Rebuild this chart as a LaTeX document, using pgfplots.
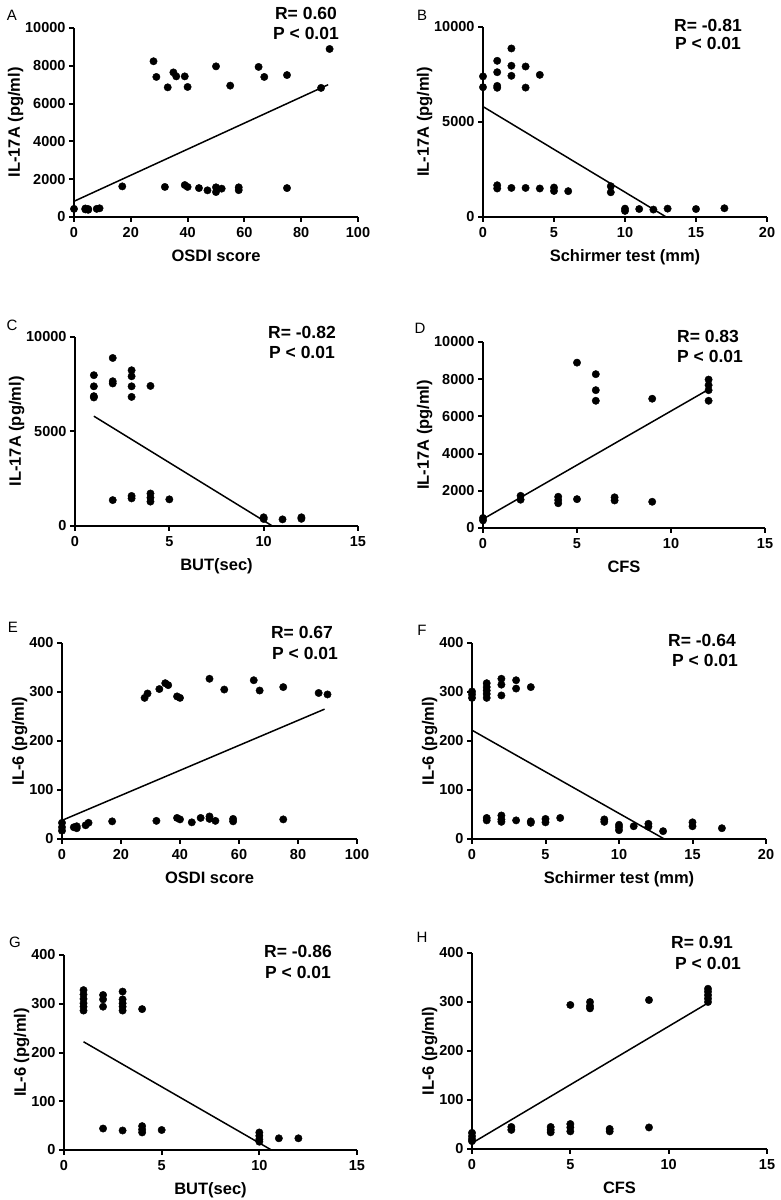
\documentclass[border=0pt]{standalone}
\usepackage{pgfplots}
\pgfplotsset{compat=1.18}
\usepackage{fontspec}
\setmainfont{Liberation Sans}
\pgfplotsset{
  prism/.style={
    scale only axis,
    axis x line=bottom, axis y line=left,
    axis line style={-, line width=2pt, black},
    enlargelimits=false, clip=false, xmin=0, ymin=0,
    tick align=outside, major tick length=5pt,
    every tick/.style={black, line width=2pt},
    scaled ticks=false,
    /pgf/number format/set thousands separator={},
    /pgf/number format/assume math mode=true,
    ticklabel style={font=\bfseries\fontsize{14.5}{14.5}\selectfont},
    xticklabel style={yshift=-2pt},
    label style={font=\bfseries\fontsize{16.5}{16.5}\selectfont},
    xlabel style={yshift=-5pt},
    ylabel style={yshift=-5pt},
  },
  dot/.style={only marks, mark=*, mark size=3.7pt, black, mark options={fill=black}},
  fit/.style={no marks, black, line width=1.5pt},
}
\newcommand{\stat}{\bfseries\fontsize{17.5}{17.5}\selectfont}
\newcommand{\plab}{\fontsize{15}{15}\selectfont}
\begin{document}
\begin{tikzpicture}[x=1pt,y=1pt]
\useasboundingbox (0,0) rectangle (780,1200);
% ---------- A
\begin{axis}[prism, at={(74pt,983pt)}, anchor=south west, width=284pt, height=189pt,
  xmax=100, ymax=10000, xtick={0,20,...,100}, ytick={0,2000,...,10000},
  xlabel={OSDI score}, ylabel={IL-17A (pg/ml)}]
\addplot[dot] coordinates {(0,430)(4,450)(4,400)(5,420)(5,380)(8,430)(9,460)(17,1620)(28,8240)(29,7410)(33,6860)(35,7650)(36,7440)(39,7440)(40,6880)(50,7970)(55,6950)(65,7940)(67,7410)(75,7510)(87,6830)(90,8890)(32,1590)(39,1690)(40,1590)(44,1530)(47,1410)(50,1570)(50,1320)(52,1500)(58,1570)(58,1420)(75,1530)};
\addplot[fit] coordinates {(0,830)(89.5,7000)};
\end{axis}
% ---------- B
\begin{axis}[prism, at={(483pt,983pt)}, anchor=south west, width=284pt, height=190pt,
  xmax=20, ymax=10000, xtick={0,5,...,20}, ytick={0,5000,10000},
  xlabel={Schirmer test (mm)}, ylabel={IL-17A (pg/ml)}]
\addplot[dot] coordinates {(0,7400)(0,6830)(1,8220)(1,7620)(1,6900)(1,6800)(2,8870)(2,7960)(2,7430)(3,7920)(3,6810)(4,7480)(1,1670)(1,1500)(2,1530)(3,1530)(4,1500)(5,1550)(5,1370)(6,1360)(9,1620)(9,1300)(10,440)(10,320)(11,420)(12,390)(13,440)(15,420)(17,460)};
\addplot[fit] coordinates {(0,5810)(12.9,0)};
\end{axis}
% ---------- C
\begin{axis}[prism, at={(75pt,674pt)}, anchor=south west, width=283pt, height=189pt,
  xmax=15, ymax=10000, xtick={0,5,...,15}, ytick={0,5000,10000},
  xlabel={BUT(sec)}, ylabel={IL-17A (pg/ml)}]
\addplot[dot] coordinates {(1,7980)(1,7390)(1,6870)(1,6800)(2,8890)(2,7660)(2,7540)(3,8240)(3,7920)(3,7390)(3,6830)(4,7410)(2,1370)(3,1590)(3,1460)(4,1720)(4,1500)(4,1290)(5,1410)(10,460)(10,370)(11,350)(12,460)(12,380)};
\addplot[fit] coordinates {(1,5810)(10.46,0)};
\end{axis}
% ---------- D
\begin{axis}[prism, at={(483pt,672pt)}, anchor=south west, width=282pt, height=186pt,
  xmax=15, ymax=10000, xtick={0,5,...,15}, ytick={0,2000,...,10000},
  xlabel={CFS}, ylabel={IL-17A (pg/ml)}]
\addplot[dot] coordinates {(0,540)(0,410)(2,1730)(2,1520)(4,1680)(4,1500)(4,1330)(5,1550)(5,8890)(6,8270)(6,7410)(6,6840)(7,1650)(7,1480)(9,6950)(9,1410)(12,7980)(12,7680)(12,7410)(12,6840)};
\addplot[fit] coordinates {(0,480)(12,7450)};
\end{axis}
% ---------- E
\begin{axis}[prism, at={(62pt,361pt)}, anchor=south west, width=295pt, height=196pt,
  xmax=100, ymax=400, xtick={0,20,...,100}, ytick={0,100,...,400},
  xlabel={OSDI score}, ylabel={IL-6 (pg/ml)}]
\addplot[dot] coordinates {(0,33)(0,24)(0,17)(4,24)(5,26)(5,22)(8,28)(9,33)(17,36)(28,288)(29,297)(33,306)(35,318)(36,314)(39,291)(40,288)(50,327)(55,305)(65,324)(67,303)(75,310)(87,298)(90,295)(32,37)(39,43)(40,40)(44,34)(47,43)(50,46)(50,41)(52,37)(58,41)(58,36)(75,40)};
\addplot[fit] coordinates {(0,38)(89,265)};
\end{axis}
% ---------- F
\begin{axis}[prism, at={(472pt,361pt)}, anchor=south west, width=294pt, height=196pt,
  xmax=20, ymax=400, xtick={0,5,...,20}, ytick={0,100,...,400},
  xlabel={Schirmer test (mm)}, ylabel={IL-6 (pg/ml)}]
\addplot[dot] coordinates {(0,301)(0,295)(0,288)(1,318)(1,310)(1,303)(1,296)(1,288)(2,327)(2,315)(2,293)(3,324)(3,307)(4,310)(1,43)(1,38)(2,48)(2,40)(2,35)(3,38)(4,36)(4,33)(5,41)(5,34)(6,43)(9,40)(9,35)(10,29)(10,24)(10,18)(11,26)(12,31)(12,25)(13,16)(15,34)(15,26)(17,22)};
\addplot[fit] coordinates {(0,222)(13.08,0)};
\end{axis}
% ---------- G
\begin{axis}[prism, at={(64pt,50pt)}, anchor=south west, width=293pt, height=195pt,
  xmax=15, ymax=400, xtick={0,5,...,15}, ytick={0,100,...,400},
  xlabel={BUT(sec)}, ylabel={IL-6 (pg/ml)}]
\addplot[dot] coordinates {(1,328)(1,319)(1,310)(1,301)(1,294)(1,286)(2,318)(2,309)(2,294)(3,325)(3,309)(3,301)(3,294)(3,286)(4,289)(2,44)(3,40)(4,49)(4,42)(4,36)(5,41)(10,36)(10,29)(10,22)(10,17)(11,24)(12,24)};
\addplot[fit] coordinates {(1,222)(10.62,0)};
\end{axis}
% ---------- H
\begin{axis}[prism, at={(472pt,51pt)}, anchor=south west, width=295pt, height=196pt,
  xmax=15, ymax=400, xtick={0,5,...,15}, ytick={0,100,...,400},
  xlabel={CFS}, ylabel={IL-6 (pg/ml)}]
\addplot[dot] coordinates {(0,33)(0,26)(0,20)(0,16)(2,45)(2,39)(4,45)(4,39)(4,34)(5,51)(5,44)(5,36)(5,294)(6,300)(6,292)(6,287)(7,41)(7,36)(9,44)(9,304)(12,327)(12,321)(12,314)(12,307)(12,300)};
\addplot[fit] coordinates {(0,12)(12,298)};
\end{axis}
% ---------- panel letters and statistics
\node[font=\plab] at (12,1185) {A};
\node[font=\plab] at (422,1185) {B};
\node[font=\plab] at (12,875) {C};
\node[font=\plab] at (420,872) {D};
\node[font=\plab] at (13,573) {E};
\node[font=\plab] at (422,570) {F};
\node[font=\plab] at (15,258) {G};
\node[font=\plab] at (422,263) {H};
\node[font=\stat] at (306,1187) {R= 0.60};
\node[font=\stat] at (306,1167) {P < 0.01};
\node[font=\stat] at (708,1175) {R= -0.81};
\node[font=\stat] at (708,1157) {P < 0.01};
\node[font=\stat] at (302,868) {R= -0.82};
\node[font=\stat] at (302,848) {P < 0.01};
\node[font=\stat] at (708,864) {R= 0.83};
\node[font=\stat] at (710,844) {P < 0.01};
\node[font=\stat] at (302,568) {R= 0.67};
\node[font=\stat] at (305,547) {P < 0.01};
\node[font=\stat] at (702,560) {R= -0.64};
\node[font=\stat] at (705,540) {P < 0.01};
\node[font=\stat] at (298,249) {R= -0.86};
\node[font=\stat] at (298,228) {P < 0.01};
\node[font=\stat] at (702,258) {R= 0.91};
\node[font=\stat] at (708,237) {P < 0.01};
\end{tikzpicture}
\end{document}
